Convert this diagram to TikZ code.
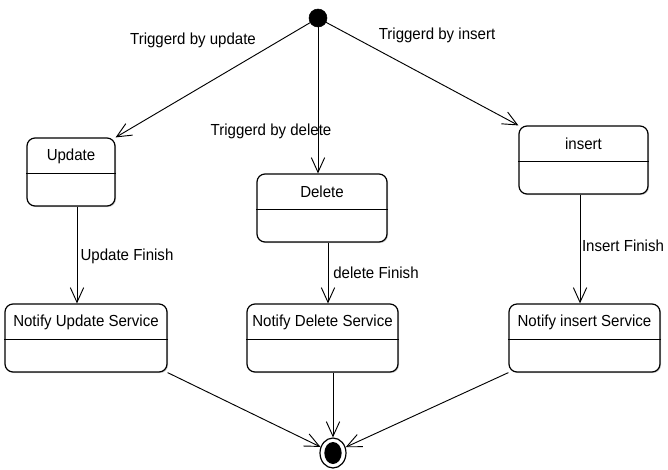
\documentclass[tikz,border=0pt]{standalone}
\usepackage{fontspec}
\setmainfont[FakeStretch=0.94]{Liberation Sans}
\usetikzlibrary{arrows.meta,shapes.geometric,shadows}
\begin{document}
\begin{tikzpicture}[x=0.75pt,y=-0.75pt,
  font=\fontsize{12pt}{14pt}\selectfont,
  statebox/.style={draw=black,line width=0.9pt,rounded corners=6pt,fill=white,
    drop shadow={shadow xshift=0.8pt,shadow yshift=-0.8pt,opacity=0.35,fill=gray},
    minimum height=51pt,inner sep=0pt},
  arr/.style={draw=black,line width=0.7pt,-{Straight Barb[length=11pt,width=10pt,line width=0.7pt]}},
  lbl/.style={inner sep=0pt}]
\useasboundingbox (0,0) rectangle (668,469);
% initial and final states
\node[circle,fill=black,draw=black,minimum size=13.5pt,inner sep=0pt] (start) at (318,18) {};
\node[ellipse,draw=black,line width=0.9pt,fill=white,minimum width=19.5pt,minimum height=22.5pt,inner sep=0pt] (end) at (333,453) {};
\node[ellipse,fill=black,minimum width=13pt,minimum height=16.5pt,inner sep=0pt] (endin) at (333,453) {};
% state boxes
\node[statebox,minimum width=66pt] (upd) at (71,172) {};
\node[statebox,minimum width=97.5pt] (del) at (322,208) {};
\node[statebox,minimum width=96.75pt] (ins) at (583.5,160) {};
\node[statebox,minimum width=121.5pt] (nu) at (86,338) {};
\node[statebox,minimum width=113.25pt] (nd) at (322.5,338) {};
\node[statebox,minimum width=113.25pt] (ni) at (584.5,338) {};
% dividers and titles
\foreach \n/\t in {upd/Update,del/Delete,ins/insert,nu/Notify Update Service,nd/Notify Delete Service,ni/Notify insert Service}{
  \draw[line width=0.9pt] ([yshift=-1.2pt]\n.west) -- ([yshift=-1.2pt]\n.east);
  \node[lbl,anchor=center] at ([yshift=-14pt]\n.north) {\t};
}
% transitions
\draw[arr] (start) -- (upd.north east);
\draw[arr] (start) -- (start |- del.north);
\draw[arr] (start) -- (ins.north west);
\draw[arr] ([xshift=4.5pt]upd.south) -- ([xshift=4.5pt]upd.south |- nu.north);
\draw[arr] ([xshift=4.5pt]del.south) -- ([xshift=4.5pt]del.south |- nd.north);
\draw[arr] ([xshift=-2.6pt]ins.south) -- ([xshift=-2.6pt]ins.south |- ni.north);
\draw[arr] (nu.south east) -- (end);
\draw[arr] (end |- nd.south) -- (end);
\draw[arr] (ni.south west) -- (end);
% labels
\node[lbl] (l1) at (193,40) {Triggerd by update};
\node[lbl] (l2) at (271,131) {Triggerd by delete};
\node[lbl] (l3) at (437,35) {Triggerd by insert};
\node[lbl] (l4) at (127,256) {Update Finish};
\node[lbl] (l5) at (376,273) {delete Finish};
\node[lbl] (l6) at (623,246) {Insert Finish};
\end{tikzpicture}
\end{document}
